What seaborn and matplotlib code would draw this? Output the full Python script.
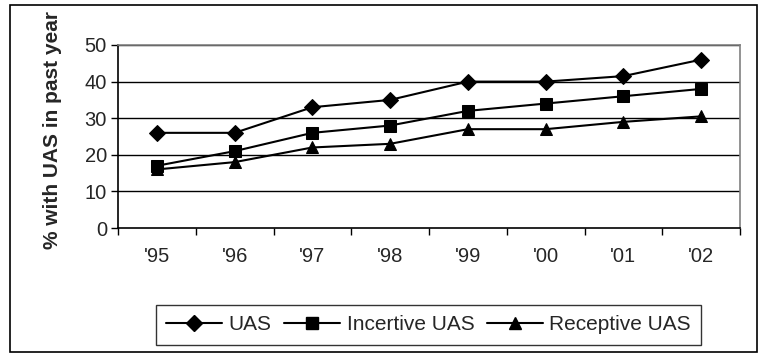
import matplotlib
matplotlib.use("Agg")
import matplotlib.pyplot as plt
from matplotlib.patches import Rectangle
from matplotlib.lines import Line2D
import numpy as np
import pandas as pd
import seaborn as sns

years = ["'95", "'96", "'97", "'98", "'99", "'00", "'01", "'02"]
uas = [26, 26, 33, 35, 40, 40, 41.5, 46]
incertive_uas = [17, 21, 26, 28, 32, 34, 36, 38]
receptive_uas = [16, 18, 22, 23, 27, 27, 29, 30.5]
series_names = ["UAS", "Incertive UAS", "Receptive UAS"]
y_ticks = [0, 10, 20, 30, 40, 50]

sns.set_theme(style="white")
plt.rcParams["font.family"] = ["Liberation Sans", "DejaVu Sans"]

rows = []
for name, vals in zip(series_names, [uas, incertive_uas, receptive_uas]):
    for i, v in enumerate(vals):
        rows.append({"pos": i + 0.5, "year": years[i], "value": v, "series": name})
df = pd.DataFrame(rows)

fig = plt.figure(figsize=(7.6, 3.55), dpi=100)
ax = fig.add_axes([118 / 760, 1 - 228 / 355, (740 - 118) / 760, (228 - 45) / 355])

marker_map = {"UAS": "D", "Incertive UAS": "s", "Receptive UAS": "^"}
sns.lineplot(
    data=df, x="pos", y="value", hue="series", style="series",
    hue_order=series_names, style_order=series_names,
    palette=["black"] * 3, markers=marker_map,
    dashes=False, markersize=8.5, linewidth=1.5, ax=ax, legend=False,
    markeredgecolor="black",
)

ax.set_xlim(0, len(years))
ax.set_ylim(0, 50)
ax.set_yticks(y_ticks)
ax.set_yticklabels([str(t) for t in y_ticks], fontsize=14.5)
ax.set_xticks(np.arange(len(years) + 1))
ax.set_xticklabels([])
ax.set_xticks(np.arange(len(years)) + 0.5, minor=True)
ax.set_xticklabels(years, minor=True, fontsize=14.5)
ax.tick_params(axis="x", which="major", direction="out", length=5, width=1, color="black", bottom=True)
ax.tick_params(axis="x", which="minor", length=0, pad=14)
ax.tick_params(axis="y", direction="out", length=5, width=1, color="black", left=True, pad=3)
ax.grid(False)
for t in y_ticks[1:]:
    ax.axhline(t, color="black", linewidth=1, zorder=0)

for side in ["top", "right"]:
    ax.spines[side].set_color("#808080")
    ax.spines[side].set_linewidth(1.2)
for side in ["left", "bottom"]:
    ax.spines[side].set_color("black")
    ax.spines[side].set_linewidth(1.2)

ax.set_xlabel("")
ax.set_ylabel("% with UAS in past year", fontsize=15, fontweight="bold")
ax.yaxis.set_label_coords((62 - 118) / (740 - 118), (228 - 130) / 183)

handles = [
    Line2D([], [], color="black", marker=marker_map[n], markersize=8, linewidth=1.5)
    for n in series_names
]
leg = fig.legend(
    handles, series_names, loc="center", ncol=3,
    bbox_to_anchor=((158 + 699) / 2 / 760, 1 - 325 / 355),
    frameon=True, fancybox=False, fontsize=15, handlelength=2.7,
    handletextpad=0.3, columnspacing=0.6, borderpad=0.5,
)
leg.get_frame().set_edgecolor("black")
leg.get_frame().set_linewidth(1)

fig.patches.append(Rectangle((10 / 760, 3 / 355), 747 / 760, 347 / 355,
                             transform=fig.transFigure, fill=False,
                             edgecolor="black", linewidth=1.2))

fig.savefig("out.png", dpi=100)
